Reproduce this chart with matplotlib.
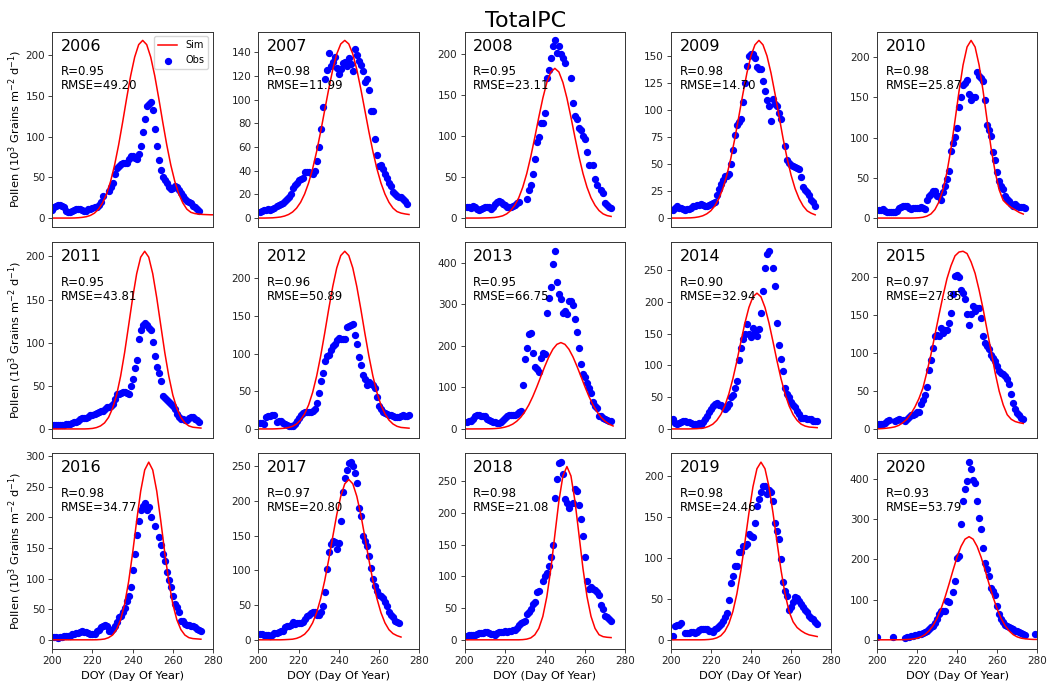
import numpy as np
import matplotlib
matplotlib.use('Agg')
import matplotlib.pyplot as plt
from matplotlib.ticker import MaxNLocator

nan = np.nan

years = [2006, 2007, 2008, 2009, 2010, 2011, 2012, 2013, 2014, 2015, 2016, 2017, 2018, 2019, 2020]
r_values = [0.95, 0.98, 0.95, 0.98, 0.98, 0.95, 0.96, 0.95, 0.90, 0.97, 0.98, 0.97, 0.98, 0.98, 0.93]
rmse_values = [49.20, 11.99, 23.11, 14.70, 25.87, 43.81, 50.89, 66.75, 32.94, 27.85, 34.77, 20.80, 21.08, 24.46, 53.79]

# simulated curve: first DOY of each series, one value every 2 days
sim_start = [199, 199, 199, 200, 199, 200, 199, 200, 199, 199, 200, 199, 199, 199, 200]
# observations: first DOY of each series, one value per day
obs_start = [200, 201, 201, 201, 201, 200, 201, 201, 201, 201, 200, 201, 201, 201, 200]

sim_2006 = [0, 0, 0, 0, 0, 0, 0.1, 0.4, 0.9, 1.7, 3.3, 6.1, 10.9, 18.5, 29.4, 44.9, 65, 89.6, 117.5, 146.9,
            174.6, 197.5, 212.8, 218, 212.8, 197.5, 174.6, 146.9, 117.5, 89.6, 65, 44.9, 29.4, 18.5, 10.9,
            7, 5.5, 4.8, 4.4, 4.2, 4, 4]
sim_2007 = [0, 0, 0, 0.1, 0.2, 0.5, 0.9, 1.7, 3, 5.1, 8.4, 13.3, 20.3, 29.7, 41.7, 56.3, 73, 91, 108.9, 125.3,
            138.5, 147, 150, 147, 138.5, 125.3, 108.9, 91, 73, 56.3, 41.7, 29.7, 20.3, 13.3, 8.4, 5.5, 4.2,
            3.5, 3]
sim_2008 = [0, 0, 0, 0, 0, 0.1, 0.2, 0.4, 0.7, 1.5, 2.7, 5.1, 9.1, 15.5, 24.6, 37.5, 54.2, 74.8, 98.1, 122.7,
            145.8, 164.9, 177.6, 182, 177.6, 164.9, 145.8, 122.7, 98.1, 74.8, 54.2, 37.5, 24.6, 15.5, 9.1,
            5.1, 3, 2]
sim_2009 = [0, 0, 0, 0, 0.1, 0.2, 0.5, 1.1, 2.1, 3.9, 6.7, 11.2, 17.9, 27.2, 39.7, 55.4, 73.8, 94.3, 115,
            134.3, 150.1, 160.4, 164.5, 160.4, 150.1, 134.3, 115, 94.3, 73.8, 55.4, 39.7, 27.2, 17.9, 11.2,
            6.7, 4.5, 3]
sim_2010 = [0, 0, 0, 0, 0, 0, 0, 0, 0, 0, 0.1, 0.4, 1, 2.4, 5.1, 10.6, 20.1, 35.1, 57.2, 86.4, 121.3, 157.8,
            190.3, 212.8, 221, 212.8, 190.3, 157.8, 121.3, 86.4, 57.2, 35.1, 22, 17, 13, 10, 7, 5]
sim_2011 = [0, 0, 0, 0, 0, 0, 0, 0, 0, 0.2, 0.6, 1.6, 3.5, 7, 13.4, 23.9, 39.3, 61.2, 88.6, 120.1, 152, 180,
            199.2, 206, 199.2, 180, 152, 120.1, 88.6, 61.2, 39.3, 23.9, 13.4, 7, 3.5, 2, 1.5, 1]
sim_2012 = [0, 0, 0, 0, 0, 0.2, 0.5, 0.9, 1.9, 3.5, 6.6, 11.8, 20.1, 31.9, 48.6, 70.3, 97, 127.2, 159.1, 189,
            213.8, 230.3, 236, 230.3, 213.8, 189, 159.1, 127.2, 97, 70.3, 48.6, 31.9, 20.1, 11.8, 6.6, 3.5,
            2, 1.5, 1]
sim_2013 = [0, 0, 0, 0.1, 0.1, 0.2, 0.3, 0.6, 1.2, 2.3, 4.2, 7.1, 11.6, 18.5, 28.1, 41.2, 57.8, 78, 101.3,
            126.3, 151, 173.7, 192, 203.8, 208, 203.8, 192, 173.7, 151, 126.3, 101.3, 78, 57.8, 41.2, 28.1,
            18.5, 11.6, 7.1]
sim_2014 = [0, 0, 0, 0, 0, 0, 0.2, 0.4, 0.9, 1.9, 4.1, 7.5, 13.5, 22.7, 36.4, 55.2, 79, 107, 137.4, 166.9,
            191.5, 208.2, 214, 208.2, 191.5, 166.9, 137.4, 107, 79, 55.2, 36.4, 22.7, 13.5, 7.5, 4.5, 3,
            2.5, 2]
sim_2015 = [0.3, 0.5, 0.8, 1.3, 2, 3, 5, 8.5, 13, 20, 29, 40, 54, 75, 98, 124, 150, 175, 198, 215,
            228, 233, 234, 231, 220, 205, 183, 158, 130, 102, 74, 50, 32, 19, 13, 10, 8.5, 7.5]
sim_2016 = [0, 0, 0, 0, 0, 0, 0, 0, 0, 0, 0, 0.1, 0.5, 1.3, 3.5, 7.8, 16.8, 32.8, 58.3, 95.1, 142.1, 194.3,
            242.7, 277.2, 290, 277.2, 242.7, 194.3, 142.1, 95.1, 58.3, 32.8, 16.8, 7.8, 3.5, 2, 1.5, 1]
sim_2017 = [0, 0, 0, 0, 0, 0, 0, 0.2, 0.5, 0.9, 2.1, 4.4, 8.1, 14.6, 24.5, 39.3, 59.6, 85.2, 115.5, 148.3,
            180.2, 206.7, 224.8, 231, 224.8, 206.7, 180.2, 148.3, 115.5, 85.2, 59.6, 39.3, 24.5, 14.6, 9, 6, 4]
sim_2018 = [0, 0, 0, 0, 0, 0, 0, 0, 0, 0, 0, 0, 0, 0, 0, 0.3, 1.1, 3, 7.9, 18, 36.9, 68, 112.2, 165.7, 218.7,
            258.3, 273, 258.3, 218.7, 165.7, 112.2, 68, 36.9, 18, 8, 5, 4, 3.5]
sim_2019 = [0, 0, 0, 0, 0, 0, 0, 0, 0, 0.1, 0.4, 1, 2.4, 5, 10.4, 19.7, 34.5, 56.2, 84.8, 119.1, 154.9, 186.8,
            209, 217, 209, 186.8, 154.9, 119.1, 84.8, 56.2, 34.5, 22, 15, 11, 8, 6, 5, 4]
sim_2020 = [0, 0, 0, 0, 0, 0.1, 0.2, 0.5, 1, 2, 3.8, 7.2, 12.8, 21.8, 34.6, 52.7, 76.3, 105.2, 138, 172.5,
            205.1, 231.9, 249.9, 256, 249.9, 231.9, 205.1, 172.5, 138, 105.2, 76.3, 52.7, 34.6, 21.8, 12.8,
            7.2, 4, 2.5, 1.5, 1, 1]

obs_2006 = [10, 13, 15, 16, 16, 15, 13, 9, 7, 7, 9, 10, 11, 11, 11, 10, 9, 9, 11, 11,
            12, 13, 14, 16, 20, 27, nan, nan, 33, 38, 43, 54, 62, 64, 66, 68, 68, 67, 72, 76,
            76, 74, 73, 78, 88, 105, 121, 137, 140, 143, 133, 109, 89, 71, 59, 50, 47, 43, 38, 36,
            37, 39, 38, 35, 31, 27, 23, 21, 20, 18, 15, 13, 11, 9]
obs_2007 = [5, 6, 6.5, 7, 7.5, 7, 7.5, 8.5, 10, 11, 12, 13, 14, 16, 18, 20, 25, 28, 30, 32,
            33, 34, 39, 39, 39, 38, 37, 40, 48, 60, 75, 94, 117, 125, 139, 128, 132, 136, 127, 122,
            126, 131, 132, 128, 135, 130, 124, 143, 138, 133, 129, 124, 115, 117, 108, 90, 90, 67, 53, 44,
            45, 41, 37, 34, 30, 27, 22, 20, 19, 18, 18, 16, 14, 12]
obs_2008 = [13, 13, 12, 15, 13, 11, 10, 11, 12, 13, 14, 13, 11, 14, 17, 19, 21, 20, 17, 16,
            14, 13, 14, 15, 16, 18, 20, nan, nan, nan, 23, 34, 40, 53, 72, 92, 98, 116, 116, 128,
            170, 180, 195, 209, 216, 201, 209, 200, 195, 189, nan, nan, 170, 140, 124, 121, 110, 107, 100, 96,
            80, 65, nan, 65, 48, 40, nan, 34, 30, 18, 16, 14, 12]
obs_2009 = [7.7, 9, 11, 9, 9, 8, 7.7, 8, 8.3, 9, 11, 11, 12, 12, 13, 12, 11, 11, 12, 13,
            14, 15, 21, 27, 32, 35, 39, 39, 41, 50, 63, 77, 86, 89, 92, 107, 125, 141, 150, 152,
            152, 148, 140, 138, 138, 127, 118, 109, 104, 90, 110, 106, 104, 97, 92, nan, 67, 54, 51, 49,
            48, 47, 46, 45, 38, 29, 26, 24, 21, 17, 15, 11]
obs_2010 = [10, 10, 11, 9, 8, 8, 8, 8, 8, 9, 12, 14, 15, 15, 15, 13, 11, 12, 13, 13,
            13, 14, 13, 11, 22, 27, 30, 34, 34, 28, 28, 23, 33, 40, 49, 59, 83, 93, 101, 112,
            138, 151, 166, 168, 172, 154, 147, 150, 151, 182, 177, 174, 171, 147, 116, 109, 102, 82, 72, 57,
            46, 40, 36, 28, 24, 21, 18, 15, 17, 15, 14, 14, 14, 13]
obs_2011 = [4, 4, 4, 4, 4, 4.6, 5, 5.8, 5.8, 5.8, 7, 8, 8.5, 9, 11, 13, 13, 13, 14, 16,
            16, 17, 19, 20, 21, 21, 23, 25, 26, 27, 29, 35, 41, 41, 42, 43, 43, 42, 41, 50,
            58, 71, 80, 104, 115, 121, 123, 120, 117, 115, 101, 85, 72, 65, 56, 38, 36, 34, 31, 29,
            27, 23, 17, 13.5, 11.5, 11, 10, 10, 13, 13.5, 13.5, 12, 10, 8]
obs_2012 = [8, 8, 6.6, 16, 17, 17, 18, 18.5, 9, 11, 10, 8, 7, 5, 4.4, 4.4, 4.4, 6.6, 10, 14,
            18, 21, 23, 22, 23, 23, 24, 26, 35, 48, 64, 74, 90, 97, 98, 105, 110, 113, 118, 121,
            120, 120, 120, 135, 137, 138, 140, 125, 113, 95, 85, 72, 66, 59, 62, 60, 59, 54, 42, 31,
            27, 23, 21, 20, 18.5, 18, 17, 16, 16, 16, 17, 18.5, 17, 17, 18]
obs_2013 = [16, 18, 20, 24, 30, 33, 34, 30, 32, 30, 24, 21, 18, 16, 17, 15, 14, 17, 21, 26,
            31, 33, 34, 34, 34, 36, 40, 44, 106, 168, 194, 228, 232, 184, 148, 144, 138, 172, 184, 180,
            280, 316, 342, 398, 428, 354, 324, 314, 280, 284, 276, 308, 308, 298, 266, 234, 194, 156, 132, 124,
            110, 98, 86, 64, 56, 50, 32, 30, 26, 24, 22, 20, 18]
obs_2014 = [16, 9, 8, 9, 10.5, 12, 12, 11.6, 11.6, 9.5, 8, 8, 8, 9, 6.3, 10.5, 16, 21, 27, 31.6,
            36, 39.5, 41, 37, 38, 34, 31.6, 35, 39.5, 50, 53.7, 64, 76, 109, 128, 142, 150, 166, 150, 145,
            159, 152, 147, 158, 183, 217, 254, 276, 280, nan, 254, 225, 167, 133, 110, 92, 64, 55, 50, 42,
            37, 34, 29, 24, 18, 17.5, 17, 16, 15, 15, 13, 13, 12]
obs_2015 = [6.5, 6.5, 7, 8.7, 11, 12, nan, nan, 11, 12, 13, 12.5, 12, 11, 14, 16.6, 18, 19, 20.5, 22.7,
            22.7, 33, 39, 45, 55, 78, 91, 107, 122, 124, 122, 133, 127, 131, 131, 140, 153, 178, 201, 203,
            200, 183, 179, 171, 151, 137, 151, 162, 155, 159, 159, 146, 122, 113, 109, 105, 98, 94, 90, 83,
            76, 74, 73, 70, 65.5, 59, 46, 34, 26, 21, 18, 15, 13]
obs_2016 = [5.4, 5.4, 4, 3.3, 4.3, 5.4, 5.5, 6, 7, 7, 8.7, 9.8, 10.5, 11.4, 12.5, 13.6, 13, 12.5, 11.4, 9.8,
            9.8, 9.8, 15, 16.8, 20.6, 22, 24.4, 23.3, 13.6, 15, 17.9, 23.3, 29.8, 37, 38.5, 45, 51.5, 64, 72, 86.8,
            114, 140, 171, 194, 212, 218, 224, 212, 216, 200, nan, 185, nan, 167, 154, 140, 128, 110, 97, 86,
            72, 59, 53, 45, 31.5, 30, 26, 24.4, 24, 23.3, 22, 20.6, 18, 15.2, 13.6]
obs_2017 = [8.6, 8.6, 7.6, 7.6, 7, 6.2, 7.2, 10, 10.5, 11, 12, 12, 18, 19.6, 20.5, 21.5, 25, 23, 24.4, 24.4,
            24.4, 25, 30, 34, 36, 38.7, 40.6, 39.7, 36, 36, 40, 48, 69, 102, 127, 138, 142, 141, 131, 139,
            171, 213, 233, 245, 255, 256, 250, 240, 226, 190, 179, 150, 142, 135, 121, 104, 88, 78, 71, 64.5,
            63.6, 60, 54, 49, 40, 36, 32.5, 27.7, 25, 24]
obs_2018 = [5.8, 6.8, 6.8, 7, 7.8, 9.4, 10.5, 11, 11.5, 12, 12, 10.5, 9.4, 8.5, 7.8, 10.5, 12, 12, 13, 13.6,
            13, 13.6, 13.6, 15, 16, 18.3, 24, 26.7, 28.8, 30, 41, 44.5, 48.6, 56.5, 60, 75, 77, nan, 93, 101,
            106, 116, 130, 149, 224, 253, 278, 280, 261, 222, 216, 208, nan, 216, 237, 234, 213, 190, 164, 130,
            92, 80, 83, 80, 78, 75, 70, 55, 48.6, 38, 35.6, 33, 30]
obs_2019 = [4.5, 17.4, 18.3, 18.3, 20.7, nan, 8.5, 8.5, 8.5, 9.3, 10, 8.5, 10, 11.4, 12.6, 12.6, 13.4, 12.6, 11, 10.5,
            10, 12.6, 14.6, 16.6, 19.5, 23.5, 27.6, 33, 49, 69, 78, 90, 90, 107, 107, 114, 114, 117, 129, 127,
            125, 143, 163, 172, 180, 188, 188, 178, 183, 180, 170, 143, 133, 123, 98.6, 70, 60, 54, 36.5, 40,
            46, 52, 50.7, 48, 44, 40, 36.5, 33.7, 29.6, 26.8, 25.6, 22, 19.5]
obs_2020 = [6.6, nan, nan, nan, nan, nan, nan, nan, 6.6, nan, nan, nan, nan, nan, 5, 8, 8, 9, 10.7, 12,
            13, 14, 15, 17, 19, 21, 25.6, 31, 35.5, 41, 52, 64, 72.6, 72.6, 72.6, 97, 95, nan, 119.6, 147,
            202, 207, 287, 345, 375, 394, 441, 423, 397, 390, 345, 303, 276, 229, 190, 177, 159, 129, 122, 111,
            85, 64, 52, 44, 38, 34, 31, 30, 27, 23, 21, 19, 17, 15, 12.4, nan, nan, nan, nan, 15]

sim_series = [sim_2006, sim_2007, sim_2008, sim_2009, sim_2010, sim_2011, sim_2012, sim_2013,
              sim_2014, sim_2015, sim_2016, sim_2017, sim_2018, sim_2019, sim_2020]
obs_series = [obs_2006, obs_2007, obs_2008, obs_2009, obs_2010, obs_2011, obs_2012, obs_2013,
              obs_2014, obs_2015, obs_2016, obs_2017, obs_2018, obs_2019, obs_2020]

fig, axes = plt.subplots(3, 5, figsize=(10.51, 6.85), dpi=100, sharex=True)
fig.subplots_adjust(left=0.0498, right=0.987, bottom=0.053, top=0.954, wspace=0.283, hspace=0.079)

for i, ax in enumerate(axes.flat):
    sim = np.array(sim_series[i], dtype=float)
    obs = np.array(obs_series[i], dtype=float)
    sim_days = sim_start[i] + 2 * np.arange(len(sim))
    obs_days = obs_start[i] + np.arange(len(obs))

    ax.plot(sim_days, sim, color='red', lw=1.1, label='Sim')
    ax.scatter(obs_days, obs, s=18, color='blue', label='Obs')

    ax.set_xlim(200, 280)
    ax.set_xticks([200, 220, 240, 260, 280])
    ax.yaxis.set_major_locator(MaxNLocator(nbins=9, steps=[1, 2, 2.5, 5, 10]))
    ax.tick_params(labelsize=7.5, length=2.6, width=0.6, pad=2.6, colors='#222222')
    for s in ax.spines.values():
        s.set_linewidth(0.7)
        s.set_color('#333333')

    ax.text(0.055, 0.964, str(years[i]), transform=ax.transAxes, fontsize=11.5, va='top', ha='left')
    ax.text(0.055, 0.828, f'R={r_values[i]:.2f}\nRMSE={rmse_values[i]:.2f}', transform=ax.transAxes,
            fontsize=8.5, va='top', ha='left', linespacing=1.1)

    if i % 5 == 0:
        ax.set_ylabel('Pollen (10$^3$ Grains m$^{-2}$ d$^{-1}$)', fontsize=8.2, labelpad=1)
    if i >= 10:
        ax.set_xlabel('DOY (Day Of Year)', fontsize=8.2, labelpad=3.5)
    else:
        ax.tick_params(axis='x', bottom=False)
    if i == 0:
        ax.legend(loc='upper right', fontsize=7)

fig.text(0.5, 1 - 26.7 / 685, 'TotalPC', ha='center', va='baseline', fontsize=16)

plt.savefig('out.png', dpi=100)
